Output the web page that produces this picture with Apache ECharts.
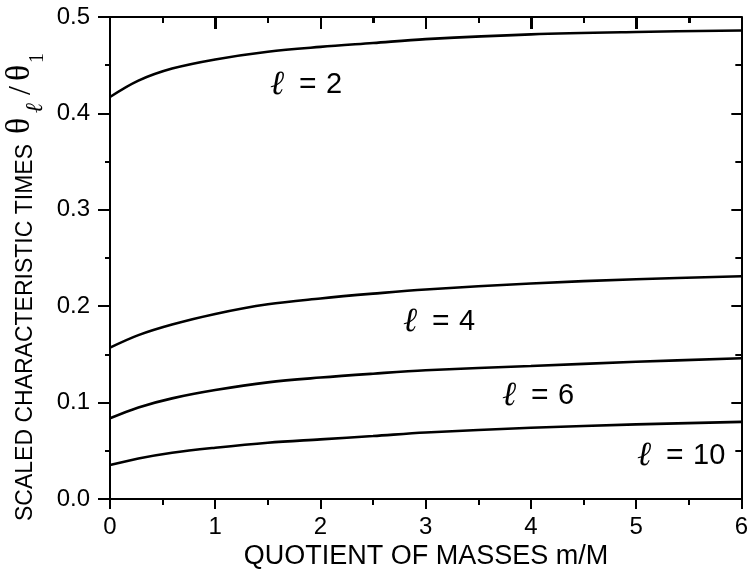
<!DOCTYPE html>
<html>
<head>
<meta charset="utf-8">
<script src="https://cdn.jsdelivr.net/npm/echarts@6/dist/echarts.min.js"></script>
<style>html,body{margin:0;padding:0;background:#fff}#c{width:751px;height:578px}</style>
</head>
<body>
<div id="c"></div>
<script>
// ---- data ----
const massRatio = [0, 0.27, 0.59, 1, 1.5, 2, 2.5, 3, 4, 5, 6];
const ell2  = [0.417, 0.434, 0.4465, 0.456, 0.464, 0.469, 0.473, 0.477, 0.482, 0.4845, 0.486];
const ell4  = [0.157, 0.170, 0.181, 0.192, 0.202, 0.208, 0.213, 0.2174, 0.2236, 0.228, 0.231];
const ell6  = [0.0837, 0.095, 0.1044, 0.113, 0.121, 0.126, 0.130, 0.1335, 0.138, 0.1423, 0.146];
const ell10 = [0.0352, 0.042, 0.048, 0.0532, 0.0584, 0.0619, 0.0653, 0.0690, 0.0739, 0.0774, 0.080];
const seriesNames = ['ℓ = 2', 'ℓ = 4', 'ℓ = 6', 'ℓ = 10'];
const curveLabels = ['2', '4', '6', '10'];
const xTitle = 'QUOTIENT OF MASSES m/M';
const yTitle = 'SCALED CHARACTERISTIC TIMES';

const SANS = '"Liberation Sans", Arial, sans-serif';
const SERIF = '"Liberation Serif", "DejaVu Serif", serif';

function pairs(ys) { return massRatio.map((x, i) => [x, ys[i]]); }

const chart = echarts.init(document.getElementById('c'));

function lineSeries(name, ys) {
  return {
    name: name, type: 'line', data: pairs(ys), smooth: 0.35, symbol: 'none',
    xAxisIndex: 0, yAxisIndex: 0,
    lineStyle: {color: '#000', width: 2.6}
  };
}

function ellLabel(num, left, cy) {
  return {
    type: 'text', left: left, top: cy - 18, z: 10,
    style: {
      rich: {
        l: {fontFamily: SERIF, fontStyle: 'italic', fontSize: 34, fill: '#000', lineHeight: 36, width: 29},
        e: {fontFamily: SANS, fontSize: 30, fill: '#000', lineHeight: 36, width: 27},
        d: {fontFamily: SANS, fontSize: 29, fill: '#000', lineHeight: 36}
      },
      text: '{l|ℓ}{e|=}{d|' + num + '}'
    }
  };
}

function rotText(txt, x, y, font, size, italic) {
  return {
    type: 'text', x: x, y: y, rotation: Math.PI / 2, z: 10,
    style: {text: txt, fontFamily: font, fontSize: size, fontStyle: italic ? 'italic' : 'normal',
      fill: '#000', align: 'left', verticalAlign: 'middle'}
  };
}

const blackLine = {color: '#000', width: 2};
const off = {show: false};

// mirrored tick strip: an axis whose split lines, inside a thin grid, act as inward ticks
function xStrip(gridIndex, minor) {
  return {type: 'value', gridIndex: gridIndex, min: 0, max: 6, interval: 1, show: true,
    axisLine: off, axisTick: off, axisLabel: off,
    minorTick: {show: false, splitNumber: 2},
    splitLine: {show: !minor, lineStyle: blackLine},
    minorSplitLine: {show: !!minor, lineStyle: blackLine}};
}
function yStrip(gridIndex, minor) {
  return {type: 'value', gridIndex: gridIndex, min: 0, max: 0.5, interval: 0.1, show: true,
    axisLine: off, axisTick: off, axisLabel: off,
    minorTick: {show: false, splitNumber: 2},
    splitLine: {show: !minor, lineStyle: blackLine},
    minorSplitLine: {show: !!minor, lineStyle: blackLine}};
}
function hiddenX(gridIndex) { return {type: 'value', gridIndex: gridIndex, min: 0, max: 6, show: false}; }
function hiddenY(gridIndex) { return {type: 'value', gridIndex: gridIndex, min: 0, max: 0.5, show: false}; }

chart.setOption({
  animation: false,
  grid: [
    {left: 110, right: 9, top: 17, bottom: 79},
    {left: 110, right: 9, top: 17, height: 12},
    {left: 110, right: 9, top: 17, height: 6},
    {right: 9, width: 10, top: 17, bottom: 79},
    {right: 9, width: 6, top: 17, bottom: 79}
  ],
  xAxis: [
    {type: 'value', gridIndex: 0, min: 0, max: 6, interval: 1, position: 'bottom', splitLine: {show: false},
     axisLine: {onZero: false, lineStyle: blackLine},
     axisTick: {show: true, length: 10, lineStyle: blackLine},
     minorTick: {show: true, splitNumber: 2, length: 6, lineStyle: blackLine},
     axisLabel: {show: true, margin: 16, fontSize: 24, fontFamily: SANS, color: '#000'}},
    {type: 'value', gridIndex: 0, min: 0, max: 6, interval: 1, position: 'top', splitLine: {show: false},
     axisLine: {onZero: false, lineStyle: blackLine},
     axisTick: {show: true, inside: true, length: 12, lineStyle: blackLine},
     minorTick: {show: true, splitNumber: 2, length: 6, lineStyle: blackLine},
     axisLabel: {show: false}},
    xStrip(1, false),
    xStrip(2, true),
    hiddenX(3),
    hiddenX(4)
  ],
  yAxis: [
    {type: 'value', gridIndex: 0, min: 0, max: 0.5, interval: 0.1, position: 'left', splitLine: {show: false},
     axisLine: {onZero: false, lineStyle: blackLine},
     axisTick: {show: true, length: 12, lineStyle: blackLine},
     minorTick: {show: true, splitNumber: 2, length: 5, lineStyle: blackLine},
     axisLabel: {show: true, margin: 20, fontSize: 24, fontFamily: SANS, color: '#000',
       formatter: v => v.toFixed(1)}},
    {type: 'value', gridIndex: 0, min: 0, max: 0.5, interval: 0.1, position: 'right', splitLine: {show: false},
     axisLine: {show: true, onZero: false, lineStyle: blackLine},
     axisTick: {show: true, inside: true, length: 10, lineStyle: blackLine},
     minorTick: {show: true, splitNumber: 2, length: 6, lineStyle: blackLine},
     axisLabel: {show: false}},
    hiddenY(1),
    hiddenY(2),
    yStrip(3, false),
    yStrip(4, true)
  ],
  series: [
    lineSeries(seriesNames[0], ell2),
    lineSeries(seriesNames[1], ell4),
    lineSeries(seriesNames[2], ell6),
    lineSeries(seriesNames[3], ell10)
  ],
  graphic: [
    ellLabel(curveLabels[0], 270, 86),
    ellLabel(curveLabels[1], 403, 323),
    ellLabel(curveLabels[2], 502, 397),
    ellLabel(curveLabels[3], 637, 457),
    {
      type: 'text', x: 426, y: 557, z: 10,
      style: {text: xTitle, fontFamily: SANS, fontSize: 27, fill: '#000', align: 'center', verticalAlign: 'middle'}
    },
    rotText(yTitle, 26, 521, SANS, 23, false),
    rotText('θ', 20, 134, SERIF, 34, false),
    rotText('ℓ', 36, 113, SERIF, 24, true),
    rotText('/', 22, 95, SERIF, 32, false),
    rotText('θ', 20, 81, SERIF, 34, false),
    rotText('1', 38, 63, SERIF, 20, false)
  ]
});
</script>
</body>
</html>
